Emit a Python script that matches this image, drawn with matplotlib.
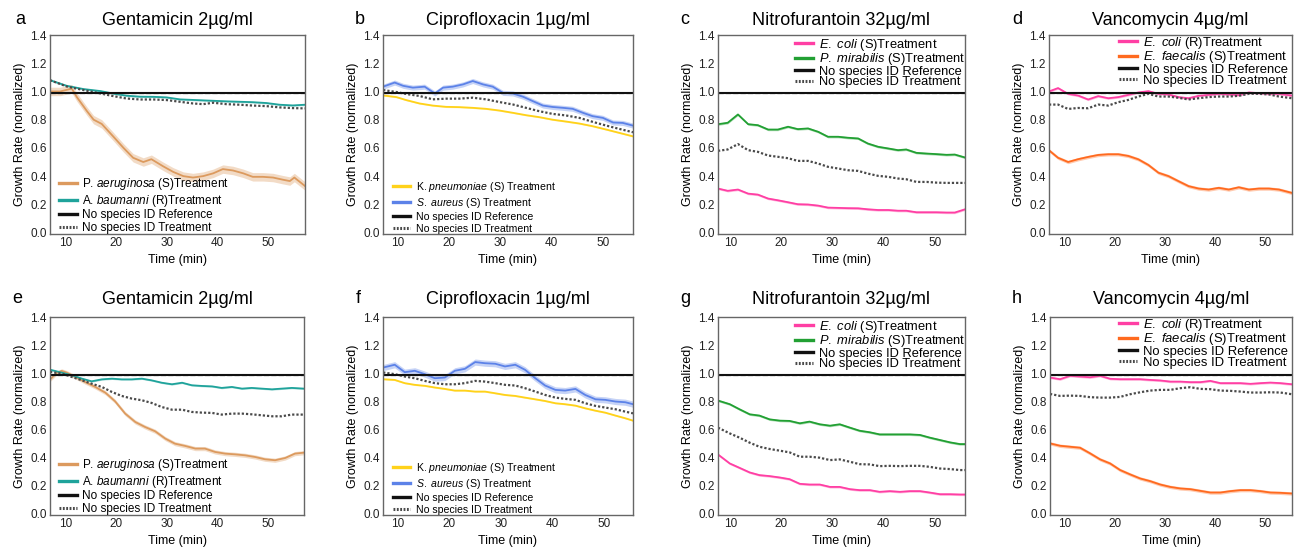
"""Growth rate vs time for antibiotic treatments, 2x4 panels."""

import matplotlib

matplotlib.use("Agg")
import matplotlib.pyplot as plt
from matplotlib.lines import Line2D

plt.rcParams["font.family"] = ["Liberation Sans", "DejaVu Sans"]
plt.rcParams["mathtext.fontset"] = "custom"
plt.rcParams["mathtext.rm"] = "Liberation Sans"
plt.rcParams["mathtext.it"] = "Liberation Sans:italic"

W, H = 1296, 549

# reference level (no species ID reference)
ref_level = 0.99

# ---- panel a: Gentamicin, top row
t_a_pa = [7.0, 9.0, 11.3, 12.3, 14.3, 15.6, 17.2, 19.5, 21.5, 23.4, 25.4, 27.0, 29.3, 31.3,
          33.3, 35.2, 37.2, 39.2, 41.1, 43.1, 45.1, 47.0, 49.0, 51.0, 52.9, 54.3, 55.2, 57.3]
y_a_pa = [1.00, 1.00, 1.02, 0.96, 0.86, 0.80, 0.77, 0.68, 0.60, 0.53, 0.50, 0.52, 0.47, 0.43,
          0.40, 0.39, 0.40, 0.42, 0.45, 0.44, 0.42, 0.395, 0.395, 0.39, 0.375, 0.365, 0.39, 0.33]
t_a = [7.0, 10.3, 13.6, 16.9, 19.5, 22.1, 24.8, 27.4, 30.0, 32.6, 35.2, 37.2, 39.2, 41.8,
       44.4, 47.0, 49.7, 52.3, 54.9, 57.3]
y_a_ab = [1.08, 1.04, 1.017, 1.003, 0.985, 0.97, 0.963, 0.962, 0.958, 0.944, 0.94, 0.937,
          0.934, 0.93, 0.927, 0.924, 0.918, 0.906, 0.901, 0.906]
y_a_ns = [1.08, 1.035, 1.01, 0.986, 0.967, 0.95, 0.943, 0.943, 0.939, 0.927, 0.915, 0.91,
          0.92, 0.91, 0.906, 0.90, 0.896, 0.887, 0.882, 0.88]

# ---- panel b: Ciprofloxacin, top row
t_b_sa = [7.1, 9.35, 11.0, 12.9, 15.2, 17.2, 18.8, 20.7, 22.7, 24.6, 26.6, 28.5, 30.5, 32.4,
          34.4, 36.3, 38.3, 40.2, 42.2, 44.1, 46.1, 48.0, 50.0, 52.0, 53.9, 55.9]
y_b_sa = [1.034, 1.063, 1.04, 1.027, 1.034, 0.986, 1.027, 1.034, 1.05, 1.074, 1.05, 1.034,
          0.99, 0.986, 0.963, 0.932, 0.90, 0.89, 0.884, 0.877, 0.849, 0.825, 0.813, 0.78,
          0.777, 0.758]
t_b = [7.1, 9.7, 11.6, 14.2, 16.8, 19.4, 22.0, 24.6, 27.2, 29.8, 32.4, 35.0, 37.6, 40.2,
       42.8, 45.4, 48.0, 50.7, 53.3, 55.9]
y_b_kp = [0.972, 0.96, 0.939, 0.915, 0.90, 0.891, 0.889, 0.884, 0.877, 0.865, 0.849, 0.832,
          0.818, 0.80, 0.787, 0.773, 0.754, 0.73, 0.706, 0.682]
y_b_ns = [1.01, 0.996, 0.982, 0.968, 0.944, 0.949, 0.949, 0.956, 0.944, 0.925, 0.908, 0.884,
          0.86, 0.841, 0.83, 0.813, 0.785, 0.758, 0.734, 0.711]

# ---- panel c: Nitrofurantoin, top row
t_c = [7.6, 9.5, 11.5, 13.5, 15.4, 17.4, 19.3, 21.3, 23.2, 25.2, 27.2, 29.1, 31.1, 33.0,
       35.0, 36.9, 38.9, 40.9, 42.8, 44.4, 46.4, 48.4, 50.3, 52.3, 53.9, 55.9]
y_c_pm = [0.768, 0.778, 0.837, 0.768, 0.761, 0.73, 0.73, 0.75, 0.733, 0.738, 0.714, 0.679,
          0.679, 0.672, 0.667, 0.631, 0.608, 0.596, 0.584, 0.589, 0.565, 0.56, 0.556, 0.551,
          0.553, 0.532]
y_c_ns = [0.579, 0.589, 0.627, 0.584, 0.572, 0.546, 0.537, 0.527, 0.508, 0.508, 0.489, 0.466,
          0.454, 0.442, 0.437, 0.418, 0.402, 0.395, 0.383, 0.378, 0.359, 0.359, 0.354, 0.352,
          0.352, 0.352]
y_c_ec = [0.312, 0.296, 0.305, 0.276, 0.269, 0.241, 0.229, 0.215, 0.201, 0.199, 0.191, 0.177,
          0.175, 0.173, 0.172, 0.165, 0.16, 0.16, 0.155, 0.155, 0.144, 0.144, 0.144, 0.142,
          0.142, 0.165]

# ---- panel d: Vancomycin, top row
t_d = [6.9, 8.7, 10.7, 12.7, 14.7, 16.7, 18.7, 20.7, 22.7, 24.7, 26.7, 28.7, 30.7, 32.7,
       34.7, 36.7, 38.7, 40.7, 42.7, 44.7, 46.7, 48.7, 50.7, 52.7, 55.3]
y_d_ef = [0.583, 0.53, 0.50, 0.52, 0.536, 0.55, 0.555, 0.555, 0.543, 0.519, 0.479, 0.424,
          0.40, 0.364, 0.329, 0.312, 0.305, 0.317, 0.305, 0.321, 0.305, 0.312, 0.312, 0.305,
          0.281]
y_d_ec = [1.0, 1.024, 0.983, 0.971, 0.943, 0.967, 0.952, 0.96, 0.976, 0.993, 1.002, 0.983,
          0.979, 0.96, 0.952, 0.969, 0.976, 0.983, 0.979, 0.974, 0.993, 0.988, 0.983, 0.983,
          0.971]
y_d_ns = [0.907, 0.907, 0.876, 0.883, 0.881, 0.907, 0.90, 0.924, 0.94, 0.964, 0.983, 0.964,
          0.964, 0.955, 0.943, 0.952, 0.96, 0.964, 0.964, 0.969, 0.983, 0.983, 0.979, 0.964,
          0.952]

# ---- panel e: Gentamicin, bottom row
t_e_pa = [7.0, 8.4, 9.3, 10.3, 12.0, 13.9, 15.9, 17.9, 19.8, 21.8, 23.8, 25.7, 27.7, 29.7,
          31.6, 33.6, 35.6, 37.5, 39.5, 41.5, 43.4, 45.4, 47.4, 49.3, 51.3, 53.3, 55.2, 57.0]
y_e_pa = [0.955, 1.004, 1.016, 1.004, 0.973, 0.937, 0.902, 0.861, 0.80, 0.712, 0.652, 0.617,
          0.586, 0.534, 0.498, 0.482, 0.463, 0.463, 0.439, 0.427, 0.422, 0.415, 0.403, 0.387,
          0.38, 0.396, 0.427, 0.434]
t_e = [7.0, 9.3, 11.3, 13.3, 15.2, 17.2, 19.2, 21.1, 23.1, 25.1, 27.0, 29.0, 31.0, 33.0,
       34.9, 36.9, 38.9, 40.8, 42.8, 44.8, 46.7, 48.7, 50.7, 52.6, 54.6, 57.0]
y_e_ab = [1.025, 1.004, 0.985, 0.961, 0.942, 0.956, 0.961, 0.956, 0.956, 0.961, 0.949, 0.932,
          0.921, 0.932, 0.914, 0.909, 0.906, 0.895, 0.902, 0.89, 0.895, 0.89, 0.885, 0.89,
          0.895, 0.89]
y_e_ns = [1.009, 0.997, 0.973, 0.949, 0.925, 0.902, 0.866, 0.838, 0.819, 0.807, 0.788, 0.759,
          0.74, 0.74, 0.724, 0.719, 0.717, 0.705, 0.712, 0.712, 0.707, 0.70, 0.693, 0.693,
          0.705, 0.705]

# ---- panel f: Ciprofloxacin, bottom row
t_f = [7.1, 9.35, 11.3, 13.25, 15.2, 17.15, 19.1, 21.05, 23.0, 25.0, 26.9, 28.9, 30.8, 32.8,
       34.7, 36.7, 38.6, 40.6, 42.5, 44.5, 46.4, 48.4, 50.3, 52.3, 54.2, 55.7]
y_f_sa = [1.04, 1.06, 1.007, 1.017, 0.993, 0.964, 0.969, 1.017, 1.031, 1.079, 1.071, 1.067,
          1.048, 1.06, 1.024, 0.964, 0.912, 0.881, 0.876, 0.888, 0.845, 0.814, 0.81, 0.798,
          0.793, 0.779]
y_f_kp = [0.957, 0.952, 0.929, 0.917, 0.91, 0.898, 0.888, 0.876, 0.876, 0.869, 0.869, 0.857,
          0.845, 0.838, 0.826, 0.814, 0.802, 0.786, 0.779, 0.769, 0.75, 0.733, 0.719, 0.698,
          0.679, 0.662]
y_f_ns = [1.005, 0.993, 0.976, 0.964, 0.945, 0.929, 0.921, 0.921, 0.929, 0.945, 0.94, 0.929,
          0.917, 0.912, 0.893, 0.869, 0.845, 0.826, 0.817, 0.81, 0.786, 0.767, 0.755, 0.743,
          0.726, 0.714]

# ---- panel g: Nitrofurantoin, bottom row
t_g = [7.6, 9.9, 11.8, 13.8, 15.7, 17.7, 19.7, 21.6, 23.6, 25.5, 27.5, 29.5, 31.4, 33.4,
       35.3, 37.3, 39.2, 41.2, 43.2, 45.1, 47.1, 49.0, 51.0, 53.0, 54.9, 55.9]
y_g_pm = [0.805, 0.779, 0.743, 0.707, 0.698, 0.671, 0.662, 0.66, 0.643, 0.655, 0.636, 0.626,
          0.636, 0.612, 0.59, 0.579, 0.564, 0.564, 0.564, 0.564, 0.56, 0.541, 0.524, 0.507,
          0.495, 0.495]
y_g_ns = [0.612, 0.571, 0.541, 0.505, 0.476, 0.46, 0.448, 0.436, 0.405, 0.405, 0.398, 0.381,
          0.386, 0.369, 0.352, 0.35, 0.338, 0.34, 0.338, 0.34, 0.34, 0.333, 0.321, 0.317,
          0.31, 0.31]
y_g_ec = [0.421, 0.357, 0.326, 0.293, 0.274, 0.267, 0.257, 0.245, 0.212, 0.207, 0.207, 0.19,
          0.19, 0.174, 0.167, 0.167, 0.155, 0.16, 0.155, 0.16, 0.16, 0.15, 0.138, 0.138,
          0.136, 0.136]

# ---- panel h: Vancomycin, bottom row
t_h = [7.0, 9.0, 11.0, 13.0, 15.0, 17.0, 19.0, 21.0, 23.0, 25.0, 27.0, 29.0, 31.0, 33.0,
       35.0, 37.0, 39.0, 41.0, 43.0, 45.0, 47.0, 49.0, 51.0, 53.0, 55.3]
y_h_ec = [0.969, 0.957, 0.981, 0.976, 0.971, 0.981, 0.96, 0.957, 0.957, 0.957, 0.952, 0.948,
          0.94, 0.94, 0.936, 0.936, 0.945, 0.929, 0.929, 0.929, 0.924, 0.929, 0.933, 0.929,
          0.921]
y_h_ns = [0.852, 0.838, 0.84, 0.838, 0.829, 0.826, 0.826, 0.831, 0.85, 0.864, 0.876, 0.881,
          0.881, 0.893, 0.90, 0.888, 0.886, 0.876, 0.874, 0.869, 0.862, 0.862, 0.864, 0.862,
          0.85]
y_h_ef = [0.50, 0.483, 0.476, 0.469, 0.429, 0.386, 0.357, 0.31, 0.279, 0.25, 0.231, 0.207,
          0.19, 0.179, 0.174, 0.162, 0.15, 0.15, 0.16, 0.167, 0.167, 0.16, 0.15, 0.148, 0.143]

# legend labels
lab_pa = r"P. $\it{aeruginosa}$ (S)Treatment"
lab_ab = r"A. $\it{baumanni}$ (R)Treatment"
lab_kp = r"K. $\it{pneumoniae}$ (S) Treatment"
lab_sa = r"$\it{S.\ aureus}$ (S) Treatment"
lab_ec_s = r"$\it{E.\ coli}$ (S)Treatment"
lab_pm = r"$\it{P.\ mirabilis}$ (S)Treatment"
lab_ec_r = r"$\it{E.\ coli}$ (R)Treatment"
lab_ef = r"$\it{E.\ faecalis}$ (S)Treatment"
lab_ref = "No species ID Reference"
lab_ns = "No species ID Treatment"

C_PA = "#DC9A5E"
C_AB = "#1FA39B"
C_KP = "#FFD21A"
C_SA = "#5C82E8"
C_EC = "#FF3FA4"
C_PM = "#22A033"
C_EF = "#FF6A1F"
C_NS = "#4a4a4a"
NS_STYLE = (0, (1.0, 0.9))


def px_rect(x0, x1, ytop, ybot):
    return [x0 / W, 1 - ybot / H, (x1 - x0) / W, (ybot - ytop) / H]


def draw_panel(fig, rect, letter, letter_xy, title, title_pad, xlim, series, ns,
               leg):
    ax = fig.add_axes(rect)
    for t, y, band, color, _ in series:
        lo = [v - band for v in y]
        hi = [v + band for v in y]
        ax.fill_between(t, lo, hi, color=color, alpha=0.35, lw=0)
        ax.plot(t, y, color=color, lw=1.3)
    ns_t, ns_y = ns
    ax.plot(ns_t, ns_y, color=C_NS, lw=1.6, ls=NS_STYLE)
    ax.plot(xlim, [ref_level, ref_level], color="#999999", lw=1.0, ls="--")
    ax.plot(xlim, [ref_level, ref_level], color="#111111", lw=1.5)

    ax.set_xlim(*xlim)
    ax.set_ylim(-0.01, 1.4)
    ax.set_xticks([10, 20, 30, 40, 50])
    ax.set_yticks([0.0, 0.2, 0.4, 0.6, 0.8, 1.0, 1.2, 1.4])
    ax.set_yticklabels([f"{v:.1f}" for v in ax.get_yticks()])
    ax.tick_params(length=0, labelsize=8.5, pad=2.5, colors="#222222")
    for s in ax.spines.values():
        s.set_color("#666666")
        s.set_linewidth(1.0)
    ax.set_xlabel("Time (min)", fontsize=9, labelpad=3)
    ax.set_ylabel("Growth Rate (normalized)", fontsize=9, labelpad=3)
    ax.set_title(title, fontsize=13, pad=title_pad)
    fig.text(letter_xy[0] / W, 1 - letter_xy[1] / H, letter, fontsize=13,
             va="baseline", ha="left")

    handles = [Line2D([], [], color=c, lw=2.4) for _, _, _, c, _ in series]
    handles.append(Line2D([], [], color="#111111", lw=2.4))
    handles.append(Line2D([], [], color=C_NS, lw=2.2, ls=(0, (0.6, 0.5))))
    labels = [s[4] for s in series] + [lab_ref, lab_ns]
    ax.legend(handles, labels, frameon=False, borderpad=0, borderaxespad=0, **leg)
    return ax


fig = plt.figure(figsize=(W / 100, H / 100), dpi=100)

leg_left_a = dict(loc="lower left", bbox_to_anchor=(0.035, 0.0), fontsize=8.5,
                  handlelength=1.55, handletextpad=0.4, labelspacing=0.05)
leg_left_b = dict(loc="lower left", bbox_to_anchor=(0.04, 0.0), fontsize=7.6,
                  handlelength=1.65, handletextpad=0.55, labelspacing=0.2)
leg_right_c = dict(loc="upper right", bbox_to_anchor=(1.0, 0.99), fontsize=9.3,
                   handlelength=1.4, handletextpad=0.45, labelspacing=-0.12)
leg_right_d = dict(loc="upper right", bbox_to_anchor=(0.985, 1.0), fontsize=9.4,
                   handlelength=1.4, handletextpad=0.45, labelspacing=-0.12)

TOP = (35, 234)
BOT = (317, 515)

draw_panel(fig, px_rect(50, 305, *TOP), "a", (15, 24), "Gentamicin 2µg/ml", 7,
           (7.0, 57.3),
           [(t_a_pa, y_a_pa, 0.03, C_PA, lab_pa), (t_a, y_a_ab, 0.006, C_AB, lab_ab)],
           (t_a, y_a_ns), leg_left_a)
draw_panel(fig, px_rect(383, 633, *TOP), "b", (355, 24), "Ciprofloxacin 1µg/ml", 7,
           (7.07, 55.9),
           [(t_b, y_b_kp, 0.005, C_KP, lab_kp), (t_b_sa, y_b_sa, 0.018, C_SA, lab_sa)],
           (t_b, y_b_ns), leg_left_b)
draw_panel(fig, px_rect(718, 965, *TOP), "c", (680, 24), "Nitrofurantoin 32µg/ml", 7,
           (7.6, 55.9),
           [(t_c, y_c_ec, 0.008, C_EC, lab_ec_s), (t_c, y_c_pm, 0.008, C_PM, lab_pm)],
           (t_c, y_c_ns), leg_right_c)
draw_panel(fig, px_rect(1049, 1292, *TOP), "d", (1012, 24), "Vancomycin 4µg/ml", 7,
           (6.9, 55.3),
           [(t_d, y_d_ec, 0.008, C_EC, lab_ec_r), (t_d, y_d_ef, 0.012, C_EF, lab_ef)],
           (t_d, y_d_ns), leg_right_d)

draw_panel(fig, px_rect(50, 304, *BOT), "e", (12, 303), "Gentamicin 2µg/ml", 9,
           (7.0, 57.0),
           [(t_e_pa, y_e_pa, 0.015, C_PA, lab_pa), (t_e, y_e_ab, 0.006, C_AB, lab_ab)],
           (t_e, y_e_ns), leg_left_a)
draw_panel(fig, px_rect(383, 633, *BOT), "f", (356, 303), "Ciprofloxacin 1µg/ml", 9,
           (7.07, 55.7),
           [(t_f, y_f_kp, 0.005, C_KP, lab_kp), (t_f, y_f_sa, 0.022, C_SA, lab_sa)],
           (t_f, y_f_ns), leg_left_b)
draw_panel(fig, px_rect(718, 965, *BOT), "g", (680, 303), "Nitrofurantoin 32µg/ml", 9,
           (7.6, 55.9),
           [(t_g, y_g_ec, 0.008, C_EC, lab_ec_s), (t_g, y_g_pm, 0.008, C_PM, lab_pm)],
           (t_g, y_g_ns), leg_right_c)
draw_panel(fig, px_rect(1050, 1292, *BOT), "h", (1012, 303), "Vancomycin 4µg/ml", 9,
           (7.0, 55.3),
           [(t_h, y_h_ec, 0.008, C_EC, lab_ec_r), (t_h, y_h_ef, 0.012, C_EF, lab_ef)],
           (t_h, y_h_ns), leg_right_d)

fig.savefig("out.png", dpi=100)
